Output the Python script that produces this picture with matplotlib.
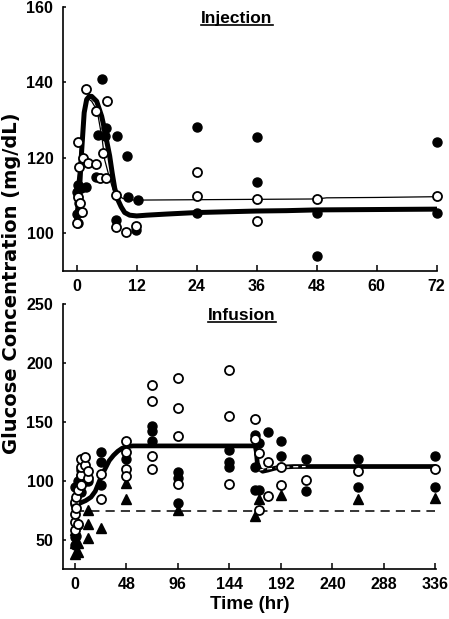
import numpy as np
import matplotlib
matplotlib.use("Agg")
import matplotlib.pyplot as plt
from matplotlib.lines import Line2D

plt.rcParams['font.family'] = ['Liberation Sans', 'DejaVu Sans']
plt.rcParams['font.weight'] = 'bold'

# ---- Injection panel (0-72 h) ----
inj_xticks = [0, 12, 24, 36, 48, 60, 72]
inj_yticks = [100, 120, 140, 160]

inj_filled_t = [0, 0, 0.3, 0.3, 0.5, 0.9, 1.9, 3.9, 4.3, 5.1, 5.6, 5.9, 8.1, 10.1,
                10.3, 12.3, 7.9, 11.9, 24, 24, 36, 36, 48, 48, 72, 72]
inj_filled_y = [111, 105, 112.8, 102.6, 108, 111.9, 112.3, 115, 126.1, 140.8, 125.7, 127.9, 125.7, 120.4,
                109.7, 108.8, 103.5, 100.8, 128.3, 105.5, 125.4, 113.5, 105.3, 93.9, 124.2, 105.5]

inj_open_t = [1.9, 6.1, 0.3, 5.3, 1.3, 2.3, 3.9, 0.5, 4.6, 5.9, 0.3, 0.6, 1.1, 0.1,
              7.9, 7.9, 9.9, 11.9, 3.9, 24, 24, 36, 36, 48, 72]
inj_open_y = [138.3, 135, 124.3, 121.2, 119.9, 118.6, 118.4, 117.7, 114.6, 114.6, 109.7, 107.9, 105.7, 102.7,
              110.1, 101.7, 100.4, 101.9, 132.3, 116.3, 110, 109.1, 103.3, 109.1, 109.9]

inj_fit1_t = [0, 0.5, 1.0, 1.5, 2.0, 2.5, 3, 4, 5, 5.5, 6, 6.6, 7.1, 7.6, 8.2, 8.9, 9.6, 10.6,
              12, 14, 18, 24, 30, 36, 42, 48, 60, 72]
inj_fit1_y = [104, 110, 122, 132, 135.5, 136.3, 136.3, 135, 131, 128, 124.5, 120.5, 116, 112, 109, 107, 105.5, 104.8,
              104.6, 104.8, 105.1, 105.5, 105.7, 105.9, 106, 106.2, 106.3, 106.4]

inj_fit2_t = [0, 0.5, 1, 1.5, 2.1, 3, 4.1, 5.1, 5.6, 6.5, 7.3, 8.3, 9.3, 10.5, 12, 24, 36, 48, 50, 60, 72]
inj_fit2_y = [112.5, 118, 126, 133, 135.9, 135, 132.5, 125, 119.5, 115, 111.5, 110, 109.2, 108.9, 108.8,
              108.9, 109, 109.1, 109.4, 109.5, 109.7]

# ---- Infusion panel (0-336 h) ----
inf_xticks = [0, 48, 96, 144, 192, 240, 288, 336]
inf_yticks = [50, 100, 150, 200, 250]

inf_open_t = [0, 0, 0, 0, 1, 1, 3, 3, 6, 6, 6, 6, 9, 9, 12, 12, 24, 24,
              48, 48, 48, 48, 72, 72, 72, 72, 96, 96, 96, 96, 144, 144, 144,
              168, 168, 172, 172, 180, 180, 192, 192, 215, 264, 336]
inf_open_y = [58, 65, 72, 82, 86, 77, 63, 92, 96, 105, 112, 118, 113, 120, 102, 108, 84.5, 106,
              134, 124, 110, 104, 181, 168, 121, 110, 187, 162, 138, 97, 194, 155, 97,
              152, 135, 123.5, 74.8, 115.5, 86.7, 112, 96.6, 100.8, 108, 110]

inf_filled_t = [0, 0, 0, 0, 1, 3, 3, 6, 6, 6, 6, 9, 9, 12, 24, 24, 24,
                48, 72, 72, 72, 96, 96, 96, 144, 144, 144, 168, 168, 168,
                172, 172, 180, 192, 192, 215, 215, 264, 264, 336, 336]
inf_filled_y = [45, 52, 80, 95, 53, 62, 100, 90, 98, 104, 109, 100, 108, 100, 96.6, 115.5, 124,
                118, 146, 142, 134, 107, 102, 81, 126, 116, 112, 139, 112, 92,
                132, 92.4, 141, 134, 121, 118, 91, 118, 95, 121, 95]

inf_tri_t = [0, 0, 0, 3, 3, 12, 12, 12, 24, 48, 48, 96, 168, 172, 192, 264, 336]
inf_tri_y = [38, 47, 58, 39, 47, 51, 63, 75, 60, 84, 98, 75, 70, 84, 88, 84, 85]

inf_fit_t = [0, 5, 10, 15, 19, 23, 27, 32, 36, 40, 44, 48, 54, 168, 169, 170, 172, 175,
             180, 186, 192, 204, 216, 240, 288, 336]
inf_fit_y = [80, 81, 83, 86, 91, 100, 108, 117, 121.5, 125, 127.5, 128.8, 129.5, 129.5, 125, 115, 110, 108,
             109, 110.5, 111.5, 112, 112, 112, 112, 112]

inf_fit2_t = [171, 180, 192, 204, 215]
inf_fit2_y = [109, 110, 111.3, 111.8, 112]

baseline_t = [0, 336]
baseline_y = [74, 74]

fig = plt.figure(figsize=(4.49, 6.19), dpi=100)
ax1 = fig.add_axes([0.1403, 0.5622, 0.833, 0.4265])
ax2 = fig.add_axes([0.1403, 0.0808, 0.8307, 0.4281])

ms = 6.5
filled_kw = dict(linestyle='none', marker='o', ms=ms, mfc='black', mec='black', zorder=4, clip_on=False)
open_kw = dict(linestyle='none', marker='o', ms=ms, mfc='white', mec='black', mew=1.3, zorder=5, clip_on=False)
tri_kw = dict(linestyle='none', marker='^', ms=ms + 0.5, mfc='black', mec='black', zorder=4, clip_on=False)

# injection
ax1.plot(inj_fit1_t, inj_fit1_y, color='black', lw=3.6, zorder=2, solid_joinstyle='round')
ax1.plot(inj_fit2_t, inj_fit2_y, color='black', lw=0.9, zorder=3)
ax1.plot(inj_filled_t, inj_filled_y, **filled_kw)
ax1.plot(inj_open_t, inj_open_y, **open_kw)
ax1.set_xlim(-2.74, 72.1)
ax1.set_ylim(90, 160)
ax1.set_xticks(inj_xticks)
ax1.set_yticks(inj_yticks)

# infusion
ax2.plot(baseline_t, baseline_y, color='black', lw=1.1, dashes=(6, 4), zorder=2)
ax2.plot(inf_fit_t, inf_fit_y, color='black', lw=3.4, zorder=3, solid_joinstyle='round')
ax2.plot(inf_fit2_t, inf_fit2_y, color='white', lw=0.9, dashes=(4, 3), zorder=3.5)
ax2.plot(inf_tri_t, inf_tri_y, **tri_kw)
ax2.plot(inf_filled_t, inf_filled_y, **filled_kw)
ax2.plot(inf_open_t, inf_open_y, **open_kw)
ax2.set_xlim(-11.1, 336.5)
ax2.set_ylim(25, 250)
ax2.set_xticks(inf_xticks)
ax2.set_yticks(inf_yticks)

for ax in (ax1, ax2):
    ax.spines['top'].set_visible(False)
    ax.spines['right'].set_visible(False)
    ax.spines['left'].set_linewidth(1.2)
    ax.spines['bottom'].set_linewidth(1.2)
    ax.tick_params(axis='x', direction='in', length=4, width=1.1, pad=6, labelsize=11.5)
    ax.tick_params(axis='y', direction='in', length=2.5, width=1.1, pad=7, labelsize=11.5)

ax2.set_xlabel('Time (hr)', fontsize=13.5, fontweight='bold', labelpad=3)
fig.text(12 / 449, 1 - 283 / 619, 'Glucose Concentration (mg/dL)', rotation=90,
         ha='center', va='center', fontsize=14, fontweight='bold', family='DejaVu Sans')

t1 = fig.text(237 / 449, 1 - 18 / 619, 'Injection', ha='center', va='center', fontsize=12.5, fontweight='bold')
t2 = fig.text(242 / 449, 1 - 315 / 619, 'Infusion', ha='center', va='center', fontsize=12.5, fontweight='bold')

# underline the panel titles
fig.canvas.draw()
inv = fig.transFigure.inverted()
for t in (t1, t2):
    bb = t.get_window_extent().transformed(inv)
    yline = bb.y0 + 0.6 / 619
    fig.add_artist(Line2D([bb.x0, bb.x1], [yline, yline], transform=fig.transFigure, color='black', lw=1.2))

fig.savefig('out.png', dpi=100)
